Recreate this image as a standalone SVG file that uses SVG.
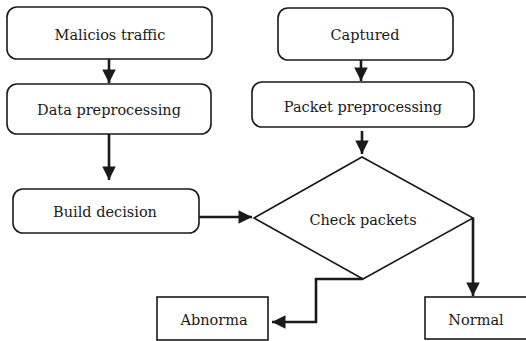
<svg xmlns="http://www.w3.org/2000/svg" width="526" height="341" viewBox="0 0 526 341">
<defs>
<style>
.box{fill:#fff;stroke:#1a1a1a;stroke-width:1.6}
.t{font-family:'DejaVu Serif',serif;font-size:14.5px;fill:#1a1a1a;text-anchor:middle}
.c{fill:none;stroke:#1a1a1a;stroke-width:2.6}
</style>
<marker id="ah" viewBox="0 0 10 10" refX="10" refY="5" markerWidth="5.2" markerHeight="5.2" markerUnits="strokeWidth" orient="auto">
<path d="M0,0 L10,5 L0,10 Z" fill="#1a1a1a"/>
</marker>
</defs>
<rect width="526" height="341" fill="#fff"/>
<g id="n1"><rect class="box" x="7" y="7" width="205" height="52" rx="10"/><text class="t" x="110" y="40">Malicios traffic</text></g>
<g id="n2"><rect class="box" x="7" y="84" width="204" height="50" rx="10"/><text class="t" x="109" y="115">Data preprocessing</text></g>
<g id="n3"><rect class="box" x="13" y="189" width="186" height="44" rx="10"/><text class="t" x="105" y="217">Build decision</text></g>
<g id="n4"><rect class="box" x="278" y="8" width="175" height="52" rx="10"/><text class="t" x="365" y="40">Captured</text></g>
<g id="n5"><rect class="box" x="252" y="82" width="222" height="45" rx="10"/><text class="t" x="363" y="112">Packet preprocessing</text></g>
<g id="n6"><polygon class="box" points="362,157 473,218 363,279 254,218"/><text class="t" x="363" y="225">Check packets</text></g>
<g id="n7"><rect class="box" x="157" y="297" width="111" height="43"/><text class="t" x="214" y="325">Abnorma</text></g>
<g id="n8"><rect class="box" x="425" y="297" width="110" height="42"/><text class="t" x="476" y="325">Normal</text></g>
<g id="connectors">
<line class="c" x1="109" y1="59" x2="109" y2="83" marker-end="url(#ah)"/>
<line class="c" x1="109" y1="134" x2="109" y2="180" marker-end="url(#ah)"/>
<line class="c" x1="361" y1="60" x2="361" y2="81" marker-end="url(#ah)"/>
<line class="c" x1="362" y1="131" x2="362" y2="154" marker-end="url(#ah)"/>
<line class="c" x1="199" y1="217" x2="252" y2="217" marker-end="url(#ah)"/>
<polyline class="c" points="473,218 473,296" marker-end="url(#ah)"/>
<polyline class="c" points="363,279 316,279 316,322 272,322" marker-end="url(#ah)"/>
</g>
</svg>
